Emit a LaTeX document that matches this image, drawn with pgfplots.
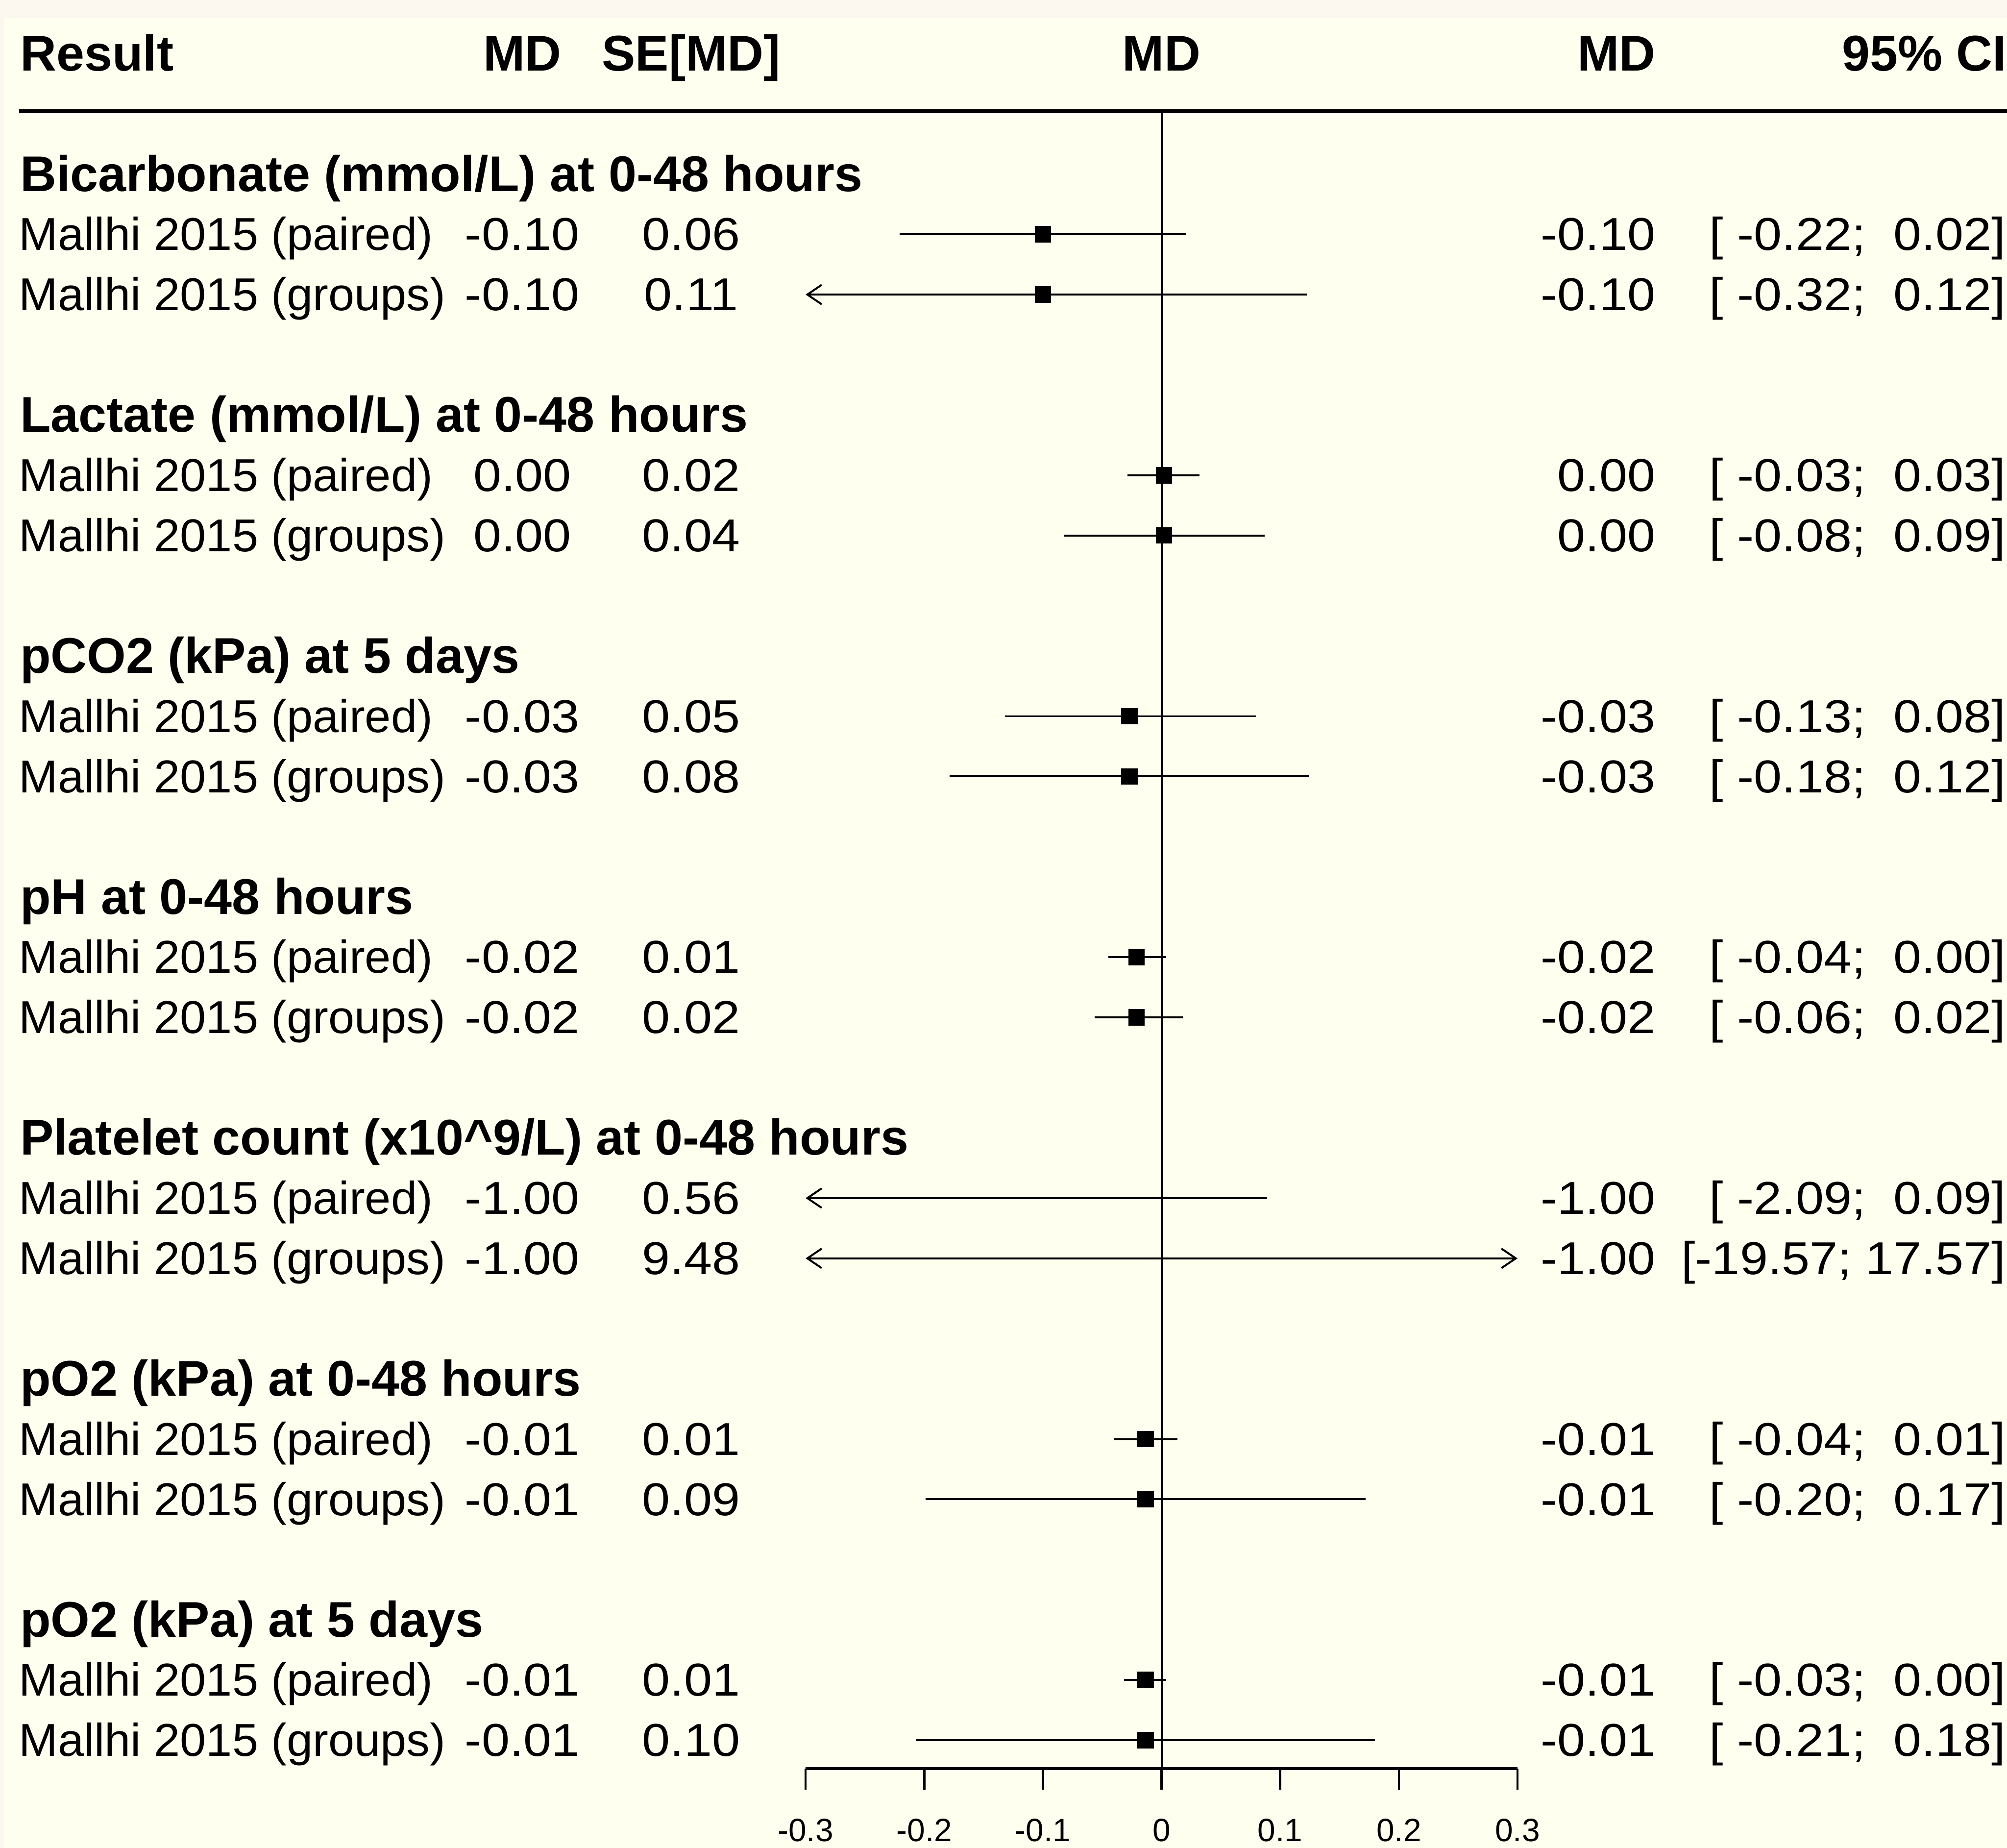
\documentclass[border=0pt]{standalone}
\usepackage{fontspec}
\setmainfont{Liberation Sans}
\newfontfamily\numfam[FakeStretch=1.09]{Liberation Sans}
\newfontfamily\labfam[FakeStretch=1.016]{Liberation Sans}
\usepackage{pgfplots}
\usepackage{pgfplotstable}
\pgfplotsset{compat=1.18}
\usetikzlibrary{arrows.meta,backgrounds}
\definecolor{bgivory}{RGB}{255,255,240}
\definecolor{bgedge}{RGB}{253,248,239}

\newcommand{\plainfont}{\labfam\fontsize{9}{10}\selectfont}
\newcommand{\numfont}{\numfam\fontsize{9}{10}\selectfont}
\newcommand{\boldfont}{\fontsize{9.8}{11}\selectfont\bfseries}

\newcommand{\grouprow}[2]{\node[anchor=base west,inner sep=0pt,font=\boldfont] at (axis cs:-0.9628,{-#1-0.283}) {#2};}
\newcommand{\studyrow}[5]{%
 \node[anchor=base west,inner sep=0pt,font=\plainfont] at (axis cs:-0.9639,{-#1-0.266}) {#2};
 \node[anchor=base,inner sep=0pt,font=\numfont] at (axis cs:-0.5388,{-#1-0.266}) {#3};
 \node[anchor=base,inner sep=0pt,font=\numfont] at (axis cs:-0.3964,{-#1-0.266}) {#4};
 \node[anchor=base east,inner sep=0pt,font=\numfont] at (axis cs:0.4170,{-#1-0.266}) {#3};
 \node[anchor=base east,inner sep=0pt,font=\numfont] at (axis cs:0.7120,{-#1-0.266}) {#5};}

% point estimates (row number, MD) - platelet rows lie outside the plotted range
\pgfplotstableread{
row md
3  -0.100
4  -0.100
7   0.002
8   0.002
11 -0.027
12 -0.027
15 -0.021
16 -0.021
23 -0.0135
24 -0.0135
27 -0.0135
28 -0.0135
}\mdtable

\begin{document}
\begin{tikzpicture}
\begin{axis}[
  scale only axis, width=139pt, height=323.5pt,
  xmin=-0.3, xmax=0.3, ymin=-28.47, ymax=-0.959,
  axis x line*=bottom, axis y line=none,
  clip=false,
  xtick={-0.3,-0.2,-0.1,0,0.1,0.2,0.3},
  xticklabels={-0.3,-0.2,-0.1,0,0.1,0.2,0.3},
  tick align=outside, major tick length=4.1pt,
  x axis line style={line width=0.65pt,-},
  every tick/.style={black,line width=0.45pt},
  xticklabel style={font=\fontsize{6.3}{7}\selectfont,yshift=-2.2pt},
  ci/.style={black,line width=0.38pt,no markers},
  arL/.style={{Straight Barb[length=2.8pt,width=3.8pt]}-},
  arR/.style={-{Straight Barb[length=2.8pt,width=3.8pt]}},
  arLR/.style={{Straight Barb[length=2.8pt,width=3.8pt]}-{Straight Barb[length=2.8pt,width=3.8pt]}},
]
% reference line at 0
\addplot[black,line width=0.38pt,no markers] coordinates {(0,-0.959) (0,-28.47)};
% header rule
\draw[line width=0.75pt] (axis cs:-0.9628,-0.959) -- (axis cs:0.7125,-0.959);

% confidence intervals
\addplot[ci] coordinates {(-0.2206,-3) (0.0210,-3)};
\addplot[ci,arL] coordinates {(-0.3,-4) (0.1224,-4)};
\addplot[ci] coordinates {(-0.0286,-7) (0.0318,-7)};
\addplot[ci] coordinates {(-0.0825,-8) (0.0868,-8)};
\addplot[ci] coordinates {(-0.1320,-11) (0.0793,-11)};
\addplot[ci] coordinates {(-0.1785,-12) (0.1246,-12)};
\addplot[ci] coordinates {(-0.0448,-15) (0.0038,-15)};
\addplot[ci] coordinates {(-0.0566,-16) (0.0178,-16)};
\addplot[ci,arL] coordinates {(-0.3,-19) (0.089,-19)};
\addplot[ci,arLR] coordinates {(-0.3,-20) (0.3,-20)};
\addplot[ci] coordinates {(-0.0405,-23) (0.0135,-23)};
\addplot[ci] coordinates {(-0.1990,-24) (0.1720,-24)};
\addplot[ci] coordinates {(-0.0318,-27) (0.0038,-27)};
\addplot[ci] coordinates {(-0.2066,-28) (0.1796,-28)};

% squares
\addplot[only marks,mark=square*,mark size=1.4pt,mark options={fill=black,draw=none}]
  table[x=md,y expr=-\thisrow{row}] {\mdtable};

% header
\node[anchor=base west,inner sep=0pt,font=\boldfont] at (axis cs:-0.9628,-0.283) {Result};
\node[anchor=base,inner sep=0pt,font=\boldfont] at (axis cs:-0.5388,-0.283) {MD};
\node[anchor=base,inner sep=0pt,font=\boldfont] at (axis cs:-0.3964,-0.283) {SE[MD]};
\node[anchor=base,inner sep=0pt,font=\boldfont] at (axis cs:0,-0.283) {MD};
\node[anchor=base east,inner sep=0pt,font=\boldfont] at (axis cs:0.4170,-0.283) {MD};
\node[anchor=base east,inner sep=0pt,font=\boldfont] at (axis cs:0.7130,-0.283) {95\% CI};

\grouprow{2}{Bicarbonate (mmol/L) at 0-48 hours}
\studyrow{3}{Mallhi 2015 (paired)}{-0.10}{0.06}{[\ -0.22;\ \ 0.02]}
\studyrow{4}{Mallhi 2015 (groups)}{-0.10}{0.11}{[\ -0.32;\ \ 0.12]}
\grouprow{6}{Lactate (mmol/L) at 0-48 hours}
\studyrow{7}{Mallhi 2015 (paired)}{0.00}{0.02}{[\ -0.03;\ \ 0.03]}
\studyrow{8}{Mallhi 2015 (groups)}{0.00}{0.04}{[\ -0.08;\ \ 0.09]}
\grouprow{10}{pCO2 (kPa) at 5 days}
\studyrow{11}{Mallhi 2015 (paired)}{-0.03}{0.05}{[\ -0.13;\ \ 0.08]}
\studyrow{12}{Mallhi 2015 (groups)}{-0.03}{0.08}{[\ -0.18;\ \ 0.12]}
\grouprow{14}{pH at 0-48 hours}
\studyrow{15}{Mallhi 2015 (paired)}{-0.02}{0.01}{[\ -0.04;\ \ 0.00]}
\studyrow{16}{Mallhi 2015 (groups)}{-0.02}{0.02}{[\ -0.06;\ \ 0.02]}
\grouprow{18}{Platelet count (x10\textasciicircum 9/L) at 0-48 hours}
\studyrow{19}{Mallhi 2015 (paired)}{-1.00}{0.56}{[\ -2.09;\ \ 0.09]}
\studyrow{20}{Mallhi 2015 (groups)}{-1.00}{9.48}{[-19.57;\ 17.57]}
\grouprow{22}{pO2 (kPa) at 0-48 hours}
\studyrow{23}{Mallhi 2015 (paired)}{-0.01}{0.01}{[\ -0.04;\ \ 0.01]}
\studyrow{24}{Mallhi 2015 (groups)}{-0.01}{0.09}{[\ -0.20;\ \ 0.17]}
\grouprow{26}{pO2 (kPa) at 5 days}
\studyrow{27}{Mallhi 2015 (paired)}{-0.01}{0.01}{[\ -0.03;\ \ 0.00]}
\studyrow{28}{Mallhi 2015 (groups)}{-0.01}{0.10}{[\ -0.21;\ \ 0.18]}

\coordinate (tl) at (axis cs:-0.97896,0.8907);
\coordinate (tli) at (axis cs:-0.97573,0.593);
\coordinate (br) at (axis cs:0.71251,-29.785);
\end{axis}
\begin{scope}[on background layer]
\fill[bgedge] (tl) rectangle (br);
\fill[bgivory] (tli) rectangle (br);
\end{scope}
\pgfresetboundingbox
\useasboundingbox (tl) rectangle (br);
\end{tikzpicture}
\end{document}
